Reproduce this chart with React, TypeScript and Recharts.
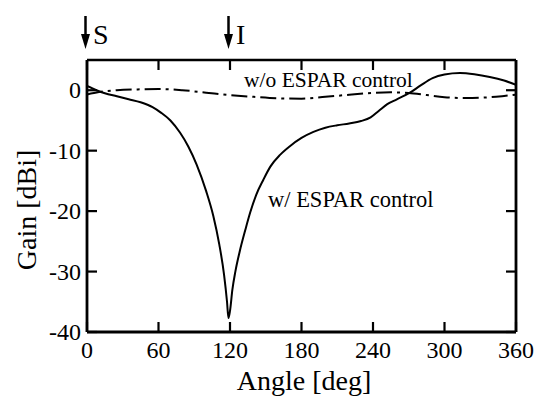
import React from 'react';
import { LineChart, Line, XAxis, YAxis, ReferenceDot } from 'recharts';

const FONT = '"Liberation Serif", "Times New Roman", Times, serif';

// Tick labels
const angleTicks = [0, 60, 120, 180, 240, 300, 360];
const gainTicks = [-40, -30, -20, -10, 0];

// w/ ESPAR control (solid)
const withAngles = [0, 8, 15, 25, 35, 45, 55, 62, 70, 78, 85, 92, 100, 106, 111, 115, 117.5, 118.7, 120, 122, 124.5, 128, 133, 137, 142, 148, 154, 162, 170, 180, 190, 200, 210, 220, 230, 238, 245, 252, 260, 271, 280, 290, 300, 313, 325, 338, 350, 360];
const withGain = [0.7, 0.0, -0.5, -1.0, -1.5, -2.0, -2.8, -3.7, -5.0, -7.0, -9.3, -12.3, -16.7, -20.8, -25.5, -30.5, -35, -37.7, -36.5, -33, -30, -26.8, -23, -20.2, -17.3, -14.8, -12.6, -10.7, -9.3, -7.9, -6.9, -6.2, -5.8, -5.5, -5.1, -4.5, -3.4, -2.3, -1.5, -0.4, 0.8, 2.0, 2.6, 2.85, 2.65, 2.2, 1.6, 0.9];

// w/o ESPAR control (dash-dot)
const withoutAngles = [0, 10, 25, 45, 60, 80, 100, 120, 140, 160, 180, 200, 220, 240, 255, 270, 285, 300, 318, 335, 350, 360];
const withoutGain = [-0.7, -0.3, 0.0, 0.15, 0.2, 0.0, -0.4, -0.8, -1.1, -1.35, -1.4, -1.1, -0.75, -0.45, -0.35, -0.45, -0.8, -1.15, -1.3, -1.2, -0.95, -0.75];

// Arrow markers above the plot
const markerAngles = [0, 120];
const markerLabels = ['S', 'I'];

const withData = withAngles.map((a, i) => ({ angle: a, gain: withGain[i] }));
const withoutData = withoutAngles.map((a, i) => ({ angle: a, gain: withoutGain[i] }));

const BottomTick = (props: any) => {
  const { x, y, payload } = props;
  return (
    <g>
      <line x1={x} y1={y} x2={x} y2={y - 10} stroke="#000" strokeWidth={2.2} />
      <text x={x} y={y + 26} textAnchor="middle" fontSize={24} fontFamily={FONT} fill="#000">
        {payload.value}
      </text>
    </g>
  );
};

const TopTick = (props: any) => {
  const { x, y } = props;
  return <line x1={x} y1={y} x2={x} y2={y + 10} stroke="#000" strokeWidth={2.2} />;
};

const LeftTick = (props: any) => {
  const { x, y, payload } = props;
  return (
    <g>
      <line x1={x} y1={y} x2={x + 10} y2={y} stroke="#000" strokeWidth={2.2} />
      <text x={x - 6} y={y + 8} textAnchor="end" fontSize={24} fontFamily={FONT} fill="#000">
        {payload.value}
      </text>
    </g>
  );
};

const RightTick = (props: any) => {
  const { x, y } = props;
  return <line x1={x} y1={y} x2={x - 10} y2={y} stroke="#000" strokeWidth={2.2} />;
};

const makeArrow = (label: string) => (props: any) => {
  const { cx, cy } = props;
  return (
    <g>
      <line x1={cx - 1.5} y1={cy - 44} x2={cx - 1.5} y2={cy - 24} stroke="#000" strokeWidth={2.5} />
      <path d={`M ${cx - 6} ${cy - 26} L ${cx + 3} ${cy - 26} L ${cx - 1.5} ${cy - 11} Z`} fill="#000" />
      <text x={cx + 6} y={cy - 16} fontSize={28} fontFamily={FONT} fill="#000">
        {label}
      </text>
    </g>
  );
};

export default function App() {
  return (
    <div style={{ position: 'absolute', left: 0, top: 0, width: 534, height: 397, background: '#fff' }}>
      <LineChart width={534} height={397} margin={{ top: 59, right: 17, bottom: 0, left: 0 }}>
        <XAxis
          xAxisId="bottom"
          type="number"
          dataKey="angle"
          domain={[0, 360]}
          ticks={angleTicks}
          height={65}
          tickSize={0}
          tickMargin={0}
          tick={<BottomTick />}
          axisLine={{ stroke: '#000', strokeWidth: 3.2 }}
          tickLine={false}
          allowDataOverflow
        />
        <XAxis
          xAxisId="top"
          orientation="top"
          type="number"
          dataKey="angle"
          domain={[0, 360]}
          ticks={angleTicks}
          height={1}
          tickSize={0}
          tickMargin={0}
          tick={<TopTick />}
          axisLine={{ stroke: '#000', strokeWidth: 2.5 }}
          tickLine={false}
          allowDataOverflow
        />
        <YAxis
          yAxisId="left"
          type="number"
          domain={[-40, 5]}
          ticks={gainTicks}
          width={87}
          tickSize={0}
          tickMargin={0}
          tick={<LeftTick />}
          axisLine={{ stroke: '#000', strokeWidth: 2.8 }}
          tickLine={false}
          allowDataOverflow
        />
        <YAxis
          yAxisId="right"
          orientation="right"
          type="number"
          domain={[-40, 5]}
          ticks={gainTicks}
          width={1}
          tickSize={0}
          tickMargin={0}
          tick={<RightTick />}
          axisLine={{ stroke: '#000', strokeWidth: 2.8 }}
          tickLine={false}
          allowDataOverflow
        />
        <Line
          xAxisId="top"
          yAxisId="right"
          data={withoutData}
          dataKey="gain"
          type="monotone"
          stroke="#000"
          strokeWidth={2}
          strokeDasharray="16 5 3 5"
          dot={false}
          isAnimationActive={false}
        />
        <Line
          xAxisId="bottom"
          yAxisId="left"
          data={withData}
          dataKey="gain"
          type="monotone"
          stroke="#000"
          strokeWidth={2}
          dot={false}
          isAnimationActive={false}
        />
        {markerAngles.map((a, i) => (
          <ReferenceDot
            key={a}
            xAxisId="bottom"
            yAxisId="left"
            x={a}
            y={5}
            r={0}
            ifOverflow="visible"
            shape={makeArrow(markerLabels[i])}
          />
        ))}
        <text x={244} y={87} fontSize={21.5} fontFamily={FONT} fill="#000">w/o ESPAR control</text>
        <text x={268} y={207} fontSize={22.5} fontFamily={FONT} fill="#000">w/ ESPAR control</text>
        <text x={36} y={210} transform="rotate(-90 36 210)" textAnchor="middle" fontSize={28} fontFamily={FONT} fill="#000">
          Gain [dBi]
        </text>
        <text x={304} y={390} textAnchor="middle" fontSize={28} fontFamily={FONT} fill="#000">
          Angle [deg]
        </text>
      </LineChart>
    </div>
  );
}
